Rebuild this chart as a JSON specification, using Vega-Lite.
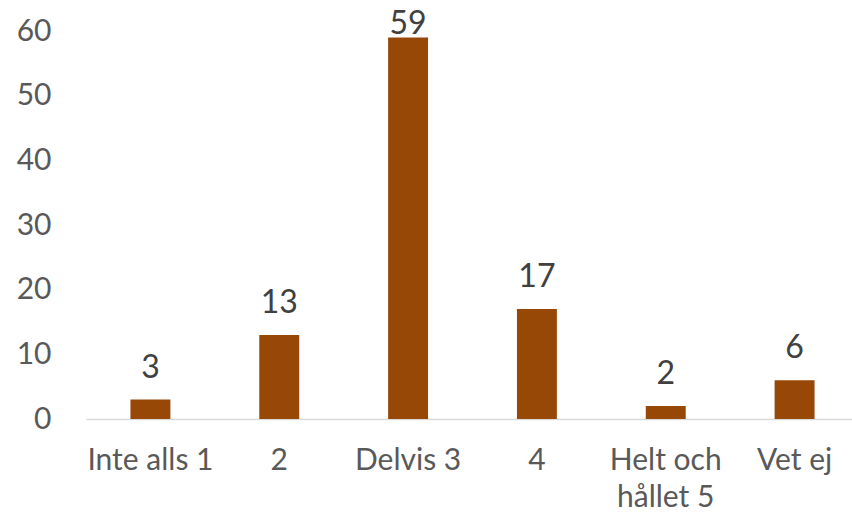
{
  "$schema": "https://vega.github.io/schema/vega-lite/v6.json",
  "autosize": "none",
  "width": 773,
  "height": 388,
  "padding": {"left": 86, "top": 31, "right": 0, "bottom": 93},
  "background": "white",
  "config": {"view": {"stroke": null}, "font": "Lato"},
  "data": {"values": [
    {"cat": "Inte alls 1", "n": 3},
    {"cat": "2", "n": 13},
    {"cat": "Delvis 3", "n": 59},
    {"cat": "4", "n": 17},
    {"cat": "Helt och hållet 5", "n": 2},
    {"cat": "Vet ej", "n": 6}
  ]},
  "encoding": {
    "x": {"field": "cat", "type": "nominal", "sort": null,
      "scale": {"paddingInner": 0.69, "paddingOuter": 0.345},
      "axis": {"title": null, "labelAngle": 0, "labelFont": "Lato", "labelFontSize": 30, "labelColor": "#595959",
        "labelBaseline": "alphabetic", "labelPadding": 50, "ticks": false, "tickSize": 0,
        "domainColor": "#d9d9d9", "domainWidth": 1.3, "labelLineHeight": 37,
        "labelExpr": "datum.value == 'Helt och hållet 5' ? ['Helt och', 'hållet 5'] : datum.value"}},
    "y": {"field": "n", "type": "quantitative",
      "scale": {"domain": [0, 60], "nice": false},
      "axis": {"title": null, "values": [0, 10, 20, 30, 40, 50, 60], "grid": false, "domain": false, "ticks": false, "tickSize": 0,
        "labelFont": "Lato", "labelFontSize": 30, "labelColor": "#595959", "labelPadding": 35}}
  },
  "layer": [
    {"mark": {"type": "bar", "color": "#974706", "clip": false}},
    {"transform": [{"filter": "datum.n < 50"}],
     "mark": {"type": "text", "baseline": "alphabetic", "dy": -22, "fontSize": 32, "font": "Lato", "color": "#404040"},
     "encoding": {"text": {"field": "n"}}},
    {"transform": [{"filter": "datum.n >= 50"}],
     "mark": {"type": "text", "baseline": "alphabetic", "dy": -3, "fontSize": 32, "font": "Lato", "color": "#404040"},
     "encoding": {"text": {"field": "n"}}}
  ]
}
